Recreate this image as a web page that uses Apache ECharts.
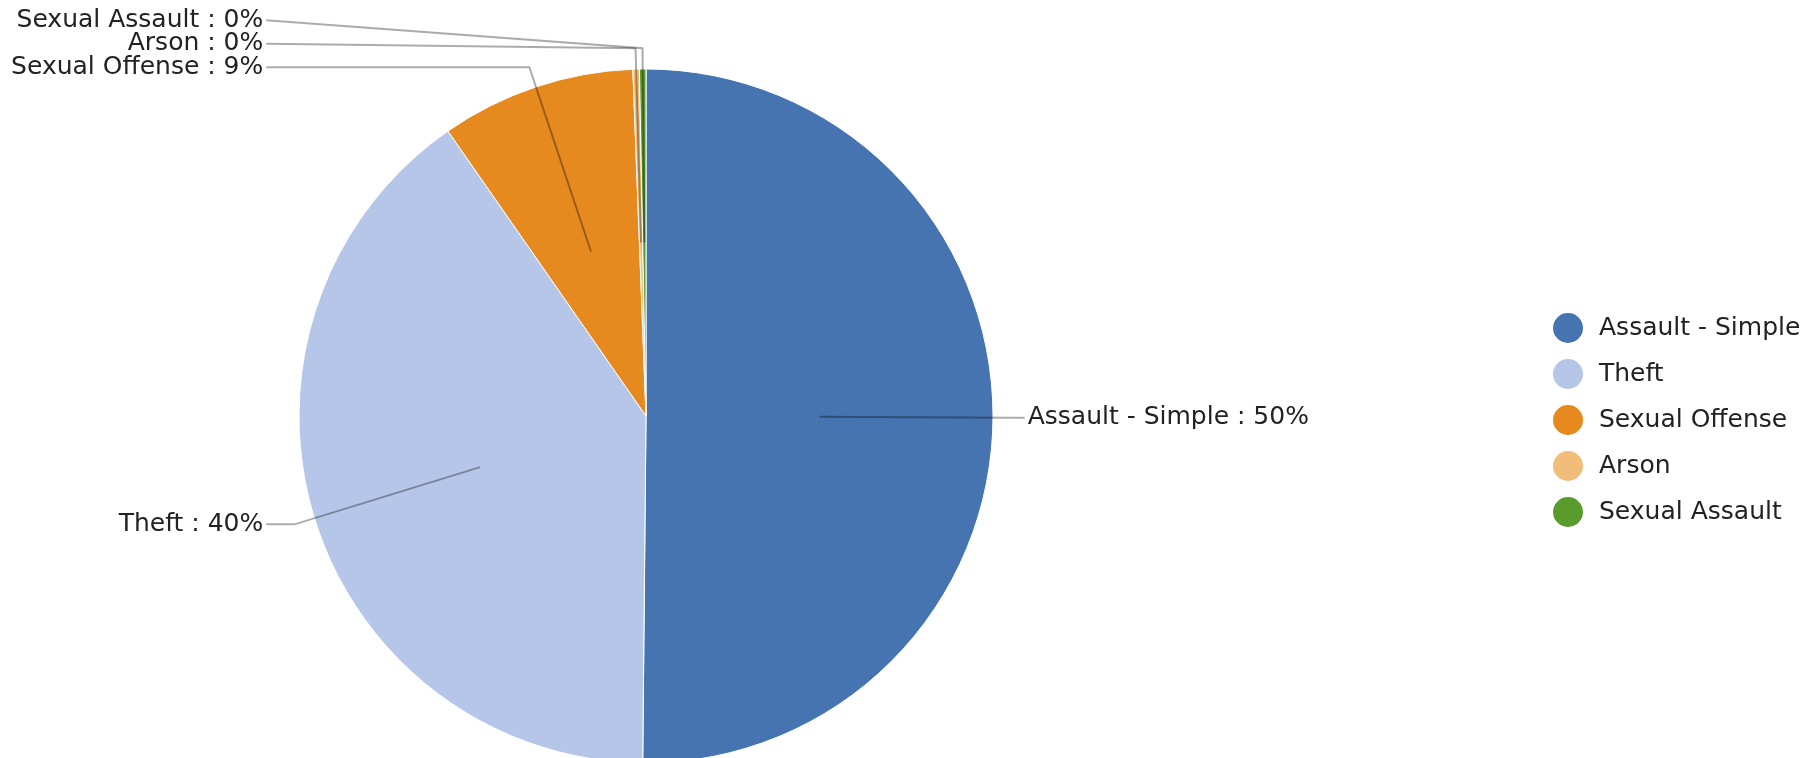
<!DOCTYPE html>
<html>
<head>
<meta charset="utf-8">
<script src="https://cdn.jsdelivr.net/npm/echarts@6/dist/echarts.min.js"></script>
<style>
  html, body { margin: 0; padding: 0; background: #fff; }
  #chart { width: 1818px; height: 758px; }
</style>
</head>
<body>
<div id="chart"></div>
<script>
const categories = ['Assault - Simple', 'Theft', 'Sexual Offense', 'Arson', 'Sexual Assault'];
const counts = [166, 133, 30, 1, 1];
const colors = ['#4674b1', '#b5c6e8', '#e6891e', '#f0bd7b', '#5a9b2d'];

const FONT = 'DejaVu Sans';
const LABEL_SIZE = 25;
const LEGEND_SIZE = 25;
const CENTER = [646, 416];
const RADIUS = 347;

const chart = echarts.init(document.getElementById('chart'), null, { renderer: 'canvas' });

// Label + leader-line layout computed from the data (angles of the slices)
function buildLabelGraphics() {
  const total = counts.reduce(function (a, b) { return a + b; }, 0);
  let acc = 0;
  const items = counts.map(function (v, i) {
    const a0 = acc / total * 2 * Math.PI;
    acc += v;
    const a1 = acc / total * 2 * Math.PI;
    const mid = (a0 + a1) / 2;
    const ux = Math.sin(mid), uy = -Math.cos(mid);
    const inner = [CENTER[0] + ux * RADIUS * 0.5, CENTER[1] + uy * RADIUS * 0.5];
    const elbow = [CENTER[0] + ux * RADIUS * 1.06, CENTER[1] + uy * RADIUS * 1.06];
    const left = ux < 0;
    return {
      i: i, inner: inner, elbow: elbow, left: left, y: elbow[1],
      text: categories[i] + ' : ' + Math.round(v / total * 100) + '%'
    };
  });
  const GAP = 23.5;
  [true, false].forEach(function (side) {
    const list = items.filter(function (it) { return it.left === side; })
      .sort(function (a, b) { return a.y - b.y; });
    for (let k = list.length - 2; k >= 0; k--) {
      if (list[k].y > list[k + 1].y - GAP) list[k].y = list[k + 1].y - GAP;
    }
  });
  const els = [];
  items.forEach(function (it) {
    const tx = it.left ? CENTER[0] - RADIUS * 1.103 : CENTER[0] + RADIUS * 1.1;
    const lx = it.left ? tx + 3 : tx - 3;
    els.push({
      type: 'polyline',
      silent: true,
      z: 10,
      shape: { points: [it.inner, it.elbow, [lx, it.y]] },
      style: { stroke: 'rgba(0,0,0,0.33)', lineWidth: 2, fill: null }
    });
    els.push({
      type: 'text',
      silent: true,
      z: 11,
      x: tx,
      y: it.y,
      style: {
        text: it.text,
        fill: '#222',
        font: LABEL_SIZE + 'px "' + FONT + '"',
        align: it.left ? 'right' : 'left',
        verticalAlign: 'middle'
      }
    });
  });
  return els;
}

const option = {
  backgroundColor: '#ffffff',
  animation: false,
  color: colors,
  legend: {
    orient: 'vertical',
    left: 1546,
    top: 306,
    icon: 'circle',
    itemWidth: 32,
    itemHeight: 32,
    itemGap: 12,
    data: categories,
    textStyle: { fontFamily: FONT, fontSize: LEGEND_SIZE, color: '#222', padding: [0, 0, 0, 10] }
  },
  series: [{
    type: 'pie',
    center: CENTER,
    radius: RADIUS,
    startAngle: 90,
    clockwise: true,
    itemStyle: { borderColor: '#ffffff', borderWidth: 1 },
    label: { show: false },
    labelLine: { show: false },
    emphasis: { disabled: true },
    data: categories.map(function (c, i) { return { name: c, value: counts[i] }; })
  }],
  graphic: buildLabelGraphics()
};

chart.setOption(option);
</script>
</body>
</html>
